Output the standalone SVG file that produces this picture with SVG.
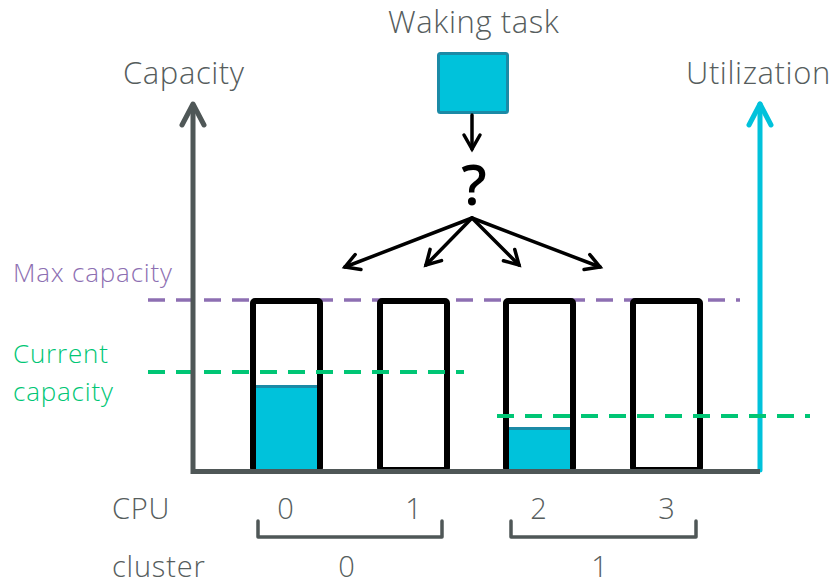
<svg xmlns="http://www.w3.org/2000/svg" width="835" height="585" viewBox="0 0 835 585">
  <defs>
    <marker id="chev" markerUnits="userSpaceOnUse" markerWidth="40" markerHeight="40" viewBox="-20 -20 40 40" refX="0" refY="0" orient="auto">
      <path d="M-14,-8 L0,0 L-14,8" fill="none" stroke="#000" stroke-width="3.5" stroke-linecap="round" stroke-linejoin="miter"/>
    </marker>
    <style>
      .lbl { font-family: "Open Sans", "Noto Sans", "Liberation Sans", sans-serif; font-weight: 300; fill: #565d5d; }
      .big { font-size: 31px; letter-spacing: 0.6px; }
      .mid { font-size: 29px; letter-spacing: 0.8px; }
      .side { font-size: 26px; letter-spacing: 0.8px; }
      .cpu { fill: #fff; stroke: #000; stroke-width: 6; stroke-linejoin: round; }
      .load { fill: #00c2db; }
      .loadtop { stroke: #1b8aa6; stroke-width: 3; }
      .maxcap { stroke: #8d6fb2; stroke-width: 3.5; stroke-dasharray: 17 11; fill: none; }
      .curcap { stroke: #00c675; stroke-width: 4; stroke-dasharray: 17 11; fill: none; }
      .conn { stroke: #000; stroke-width: 3.5; fill: none; stroke-linecap: round; }
      .bracket { stroke: #4f5757; stroke-width: 3.5; fill: none; stroke-linecap: round; stroke-linejoin: round; }
    </style>
  </defs>

  <!-- title labels -->
  <text class="lbl big" x="388" y="33">Waking task</text>
  <text class="lbl big" x="123" y="84">Capacity</text>
  <text class="lbl big" x="686" y="84">Utilization</text>

  <!-- side labels -->
  <text class="lbl side" x="13" y="282" style="fill:#8d6fb2">Max capacity</text>
  <text class="lbl side" x="13" y="363" style="fill:#00c675">Current</text>
  <text class="lbl side" x="13" y="401" style="fill:#00c675">capacity</text>

  <!-- max capacity line (behind the CPUs) -->
  <line class="maxcap" x1="148" y1="300" x2="740" y2="300"/>

  <!-- CPU 0 -->
  <g id="cpu0">
    <rect class="cpu" x="253" y="301" width="67" height="169" rx="2"/>
    <rect class="load" x="256" y="386" width="61" height="84"/>
    <line class="loadtop" x1="256" y1="386.5" x2="317" y2="386.5"/>
  </g>
  <!-- CPU 1 -->
  <g id="cpu1">
    <rect class="cpu" x="380" y="301" width="67" height="169" rx="2"/>
  </g>
  <!-- CPU 2 -->
  <g id="cpu2">
    <rect class="cpu" x="506" y="301" width="67" height="169" rx="2"/>
    <rect class="load" x="509" y="428" width="61" height="42"/>
    <line class="loadtop" x1="509" y1="428.5" x2="570" y2="428.5"/>
  </g>
  <!-- CPU 3 -->
  <g id="cpu3">
    <rect class="cpu" x="633" y="301" width="67" height="169" rx="2"/>
  </g>

  <!-- utilization axis -->
  <g id="util-axis" fill="none" stroke="#00c2db" stroke-width="5" stroke-linecap="round" stroke-linejoin="round">
    <line x1="760" y1="470" x2="760" y2="104"/>
    <path d="M749,125 L760,104 L771,125"/>
  </g>

  <!-- current capacity lines -->
  <line class="curcap" x1="148" y1="372" x2="464" y2="372"/>
  <line class="curcap" x1="497" y1="416" x2="810" y2="416"/>

  <!-- capacity axis and baseline -->
  <g id="cap-axis" fill="none" stroke="#4f5757" stroke-width="5">
    <path d="M193,104 L193,471.5 L760,471.5" stroke-linejoin="miter"/>
    <path d="M182,125 L193,104 L204,125" stroke-linecap="round" stroke-linejoin="round"/>
  </g>

  <!-- waking task -->
  <g id="task">
    <rect x="438.5" y="53.5" width="69" height="59" rx="2" fill="#00c2db" stroke="#1b8aa6" stroke-width="3"/>
  </g>
  <g id="question">
    <text x="474" y="205" text-anchor="middle" font-family="'Open Sans', 'Noto Sans', sans-serif" font-size="56" font-weight="600" fill="#000">?</text>
  </g>

  <!-- connectors -->
  <g id="connectors">
    <line class="conn" x1="472" y1="115" x2="472" y2="149" marker-end="url(#chev)"/>
    <line class="conn" x1="472" y1="218" x2="345" y2="267" marker-end="url(#chev)"/>
    <line class="conn" x1="472" y1="218" x2="426" y2="265" marker-end="url(#chev)"/>
    <line class="conn" x1="472" y1="218" x2="519" y2="265" marker-end="url(#chev)"/>
    <line class="conn" x1="472" y1="218" x2="600" y2="267" marker-end="url(#chev)"/>
  </g>

  <!-- CPU / cluster legend -->
  <text class="lbl mid" x="112" y="519">CPU</text>
  <text class="lbl mid" x="286" y="519" text-anchor="middle">0</text>
  <text class="lbl mid" x="414" y="519" text-anchor="middle">1</text>
  <text class="lbl mid" x="539" y="519" text-anchor="middle">2</text>
  <text class="lbl mid" x="667" y="519" text-anchor="middle">3</text>
  <path class="bracket" d="M258,521 L258,537 L442,537 L442,521"/>
  <path class="bracket" d="M511,521 L511,537 L696,537 L696,521"/>
  <text class="lbl mid" x="112" y="577">cluster</text>
  <text class="lbl mid" x="347" y="577" text-anchor="middle">0</text>
  <text class="lbl mid" x="600" y="577" text-anchor="middle">1</text>
</svg>
